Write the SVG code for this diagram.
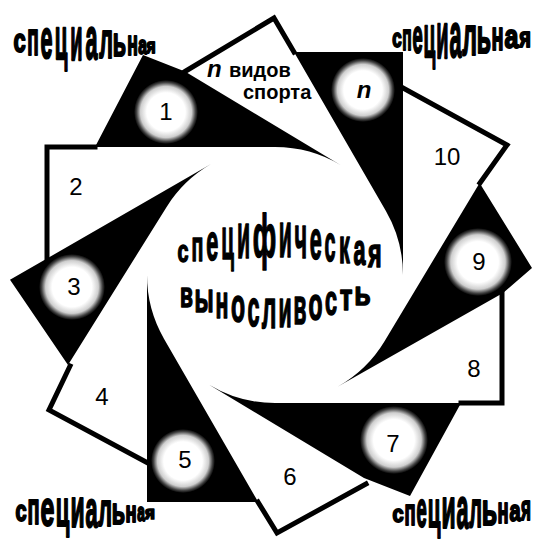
<svg xmlns="http://www.w3.org/2000/svg" width="534" height="539" viewBox="0 0 534 539">
<defs>
<radialGradient id="glow" cx="50%" cy="50%" r="50%">
<stop offset="0" stop-color="#fff"/>
<stop offset="0.6" stop-color="#fff"/>
<stop offset="0.8" stop-color="#cfcfcf"/>
<stop offset="0.92" stop-color="#444"/>
<stop offset="1" stop-color="#000"/>
</radialGradient>
</defs>
<style>
.blade{fill:#000}
.edge{fill:none;stroke:#000;stroke-width:5;stroke-linejoin:miter;stroke-linecap:square}
.glow{fill:url(#glow)}
.num{font-family:"Liberation Sans",Arial,sans-serif;font-size:24px;text-anchor:middle;fill:#000}
.lbl{font-family:"Liberation Sans",Arial,sans-serif;font-weight:bold;font-size:20px;fill:#000}
.w{font-family:"Liberation Sans",Arial,sans-serif;font-weight:bold;font-size:20px;text-anchor:middle;fill:#000;stroke:#000;stroke-width:1.3px;stroke-linejoin:round;vector-effect:non-scaling-stroke}
.c{stroke-width:1.7px}
</style>
<rect width="534" height="539" fill="#fff"/>
<circle id="core" cx="275" cy="275" r="128" fill="#fff"/>

<g id="seg1">
<path class="blade" d="M95,147 L275,147 A128,128 0 0 1 340.9,165.2 L185,71.5 L143,55 Z"/>
<circle class="glow" cx="166" cy="112" r="32"/>
<text class="num" x="166" y="120">1</text>
</g>
<g id="segN">
<path class="blade" d="M294,52 L385.9,211 A128,128 0 0 1 403,275 L403,52 Z"/>
<circle class="glow" cx="363" cy="90" r="32"/>
<text class="num" x="364" y="98" font-weight="bold" font-style="italic" font-size="26">n</text>
</g>
<g id="seg9">
<path class="blade" d="M479.6,183 L384.7,340.9 A128,128 0 0 1 338,386.4 L503,293 L532,268 Z"/>
<circle class="glow" cx="478" cy="262" r="34"/>
<text class="num" x="479" y="270">9</text>
</g>
<g id="seg7">
<path class="blade" d="M461,403 L275,403 A128,128 0 0 1 209.1,384.7 L364,478 L410,496 Z"/>
<circle class="glow" cx="394" cy="440" r="34"/>
<text class="num" x="393" y="452">7</text>
</g>
<g id="seg5">
<path class="blade" d="M258.2,502 L164.1,339 A128,128 0 0 1 147,275 L147,502 Z"/>
<circle class="glow" cx="183" cy="461" r="32"/>
<text class="num" x="185" y="468">5</text>
</g>
<g id="seg3">
<path class="blade" d="M68,365 L166.45,207.2 A128,128 0 0 1 211,164.1 L10,279.8 Z"/>
<circle class="glow" cx="72" cy="287" r="33"/>
<text class="num" x="74" y="295">3</text>
</g>

<g id="seg2">
<polyline class="edge" points="95,147 47,147 47,259"/>
<text class="num" x="76" y="195">2</text>
</g>
<g id="seg4">
<polyline class="edge" points="70,366 49,410 148,463"/>
<text class="num" x="102" y="405">4</text>
</g>
<g id="seg6">
<polyline class="edge" points="258,502 277,533 366,484"/>
<text class="num" x="290" y="485">6</text>
</g>
<g id="seg8">
<polyline class="edge" points="461,403 502,403 502,293"/>
<text class="num" x="474" y="377">8</text>
</g>
<g id="seg10">
<polyline class="edge" points="403,88 507,145 480,183"/>
<text class="num" x="447" y="165">10</text>
</g>
<g id="segSports">
<polyline class="edge" points="185,71.5 274,18 294,52"/>
<text class="lbl" x="207" y="77"><tspan font-style="italic" font-size="24">n</tspan><tspan x="229">видов</tspan></text>
<text class="lbl" x="243" y="99">спорта</text>
</g>

<g id="center-title">
<text class="w" transform="translate(183 261.5) scale(0.99 1.54)">с</text>
<text class="w" transform="translate(197.4 260.5) scale(0.98 2.12)">п</text>
<text class="w" transform="translate(212.3 259.5) scale(1.08 2.6)">е</text>
<text class="w" transform="translate(227.7 258.5) scale(1.03 2.98)">ц</text>
<text class="w" transform="translate(243.6 257.5) scale(1.07 3.27)">и</text>
<text class="w" transform="translate(264.5 257) scale(1.34 3.1)">ф</text>
<text class="w" transform="translate(285.4 256.5) scale(1.07 3.27)">и</text>
<text class="w" transform="translate(300.8 257.5) scale(1.08 3.08)">ч</text>
<text class="w" transform="translate(315.7 258.5) scale(1.08 2.79)">е</text>
<text class="w" transform="translate(330.1 260.5) scale(0.99 2.6)">с</text>
<text class="w" transform="translate(344.5 262.5) scale(1.08 2.4)">к</text>
<text class="w" transform="translate(359.4 264.5) scale(1.08 2.21)">а</text>
<text class="w" transform="translate(374.8 266.5) scale(1.17 2.02)">я</text>

<text class="w" transform="translate(186.5 306.5) scale(1.05 1.73)">в</text>
<text class="w" transform="translate(204 311.5) scale(1.12 2.02)">ы</text>
<text class="w" transform="translate(222 317.5) scale(1.07 2.31)">н</text>
<text class="w" transform="translate(238 321.5) scale(1.15 2.4)">о</text>
<text class="w" transform="translate(253.5 325.5) scale(1.08 2.6)">с</text>
<text class="w" transform="translate(269 327.5) scale(1.15 2.79)">л</text>
<text class="w" transform="translate(285 326.5) scale(1.07 2.69)">и</text>
<text class="w" transform="translate(300 323.5) scale(1.05 2.5)">в</text>
<text class="w" transform="translate(315.5 319.5) scale(1.15 2.31)">о</text>
<text class="w" transform="translate(331 314.5) scale(1.08 2.12)">с</text>
<text class="w" transform="translate(346 309.5) scale(1.3 1.83)">т</text>
<text class="w" transform="translate(362.5 304.5) scale(1.34 1.63)">ь</text>
</g>

<g id="label-tl">
<text class="w c" transform="translate(19.5 52) scale(1.1 1.65)">с</text>
<text class="w c" transform="translate(33 55) scale(0.95 2.3)">п</text>
<text class="w c" transform="translate(46.5 58) scale(1.08 2.8)">е</text>
<text class="w c" transform="translate(61 59) scale(1.03 3.0)">ц</text>
<text class="w c" transform="translate(76.5 60) scale(1.0 3.1)">и</text>
<text class="w c" transform="translate(91.5 59) scale(1.08 2.95)">а</text>
<text class="w c" transform="translate(106 58) scale(1.08 2.5)">л</text>
<text class="w c" transform="translate(119.5 56) scale(1.08 2.0)">ь</text>
<text class="w c" transform="translate(132.5 55) scale(0.88 1.75)">н</text>
<text class="w c" transform="translate(142.5 54) scale(0.78 1.3)">а</text>
<text class="w c" transform="translate(151 53) scale(0.78 1.05)">я</text>
</g>
<g id="label-tr">
<text class="w c" transform="translate(397 47) scale(0.85 1.27)">с</text>
<text class="w c" transform="translate(407 50) scale(0.78 1.83)">п</text>
<text class="w c" transform="translate(417.5 53) scale(0.92 2.4)">е</text>
<text class="w c" transform="translate(429.5 57) scale(0.96 3.0)">ц</text>
<text class="w c" transform="translate(442.5 58) scale(1.0 3.27)">и</text>
<text class="w c" transform="translate(455.5 57) scale(1.08 3.17)">а</text>
<text class="w c" transform="translate(469.5 55) scale(1.16 2.79)">л</text>
<text class="w c" transform="translate(484 53) scale(1.16 2.4)">ь</text>
<text class="w c" transform="translate(497.5 50) scale(1.0 2.02)">н</text>
<text class="w c" transform="translate(511.5 48) scale(1.25 1.63)">а</text>
<text class="w c" transform="translate(525 47) scale(1.0 1.35)">я</text>
</g>
<g id="label-bl">
<text class="w c" transform="translate(21 521) scale(1.0 1.44)">с</text>
<text class="w c" transform="translate(33.5 524) scale(1.0 2.21)">п</text>
<text class="w c" transform="translate(47.5 526) scale(1.25 2.5)">е</text>
<text class="w c" transform="translate(62.5 526) scale(1.1 2.6)">ц</text>
<text class="w c" transform="translate(77.5 527) scale(1.15 2.79)">и</text>
<text class="w c" transform="translate(91.5 527) scale(1.08 2.6)">а</text>
<text class="w c" transform="translate(105 526) scale(1.08 2.3)">л</text>
<text class="w c" transform="translate(118.5 524) scale(1.08 1.82)">ь</text>
<text class="w c" transform="translate(131 522) scale(0.92 1.44)">н</text>
<text class="w c" transform="translate(141 521) scale(0.68 1.25)">а</text>
<text class="w c" transform="translate(150 519) scale(0.85 0.9)">я</text>
</g>
<g id="label-br">
<text class="w c" transform="translate(398 522) scale(1.0 1.17)">с</text>
<text class="w c" transform="translate(410 525) scale(0.92 1.83)">п</text>
<text class="w c" transform="translate(421.5 527) scale(0.92 2.5)">е</text>
<text class="w c" transform="translate(434 527) scale(1.03 2.6)">ц</text>
<text class="w c" transform="translate(448.5 528) scale(1.15 2.88)">и</text>
<text class="w c" transform="translate(462.5 528) scale(1.08 2.88)">а</text>
<text class="w c" transform="translate(475.5 527) scale(1.0 2.6)">л</text>
<text class="w c" transform="translate(489.5 525) scale(1.25 2.21)">ь</text>
<text class="w c" transform="translate(503 523) scale(0.92 1.83)">н</text>
<text class="w c" transform="translate(515 521) scale(1.0 1.44)">а</text>
<text class="w c" transform="translate(526 520) scale(0.85 1.73)">я</text>
</g>
</svg>
